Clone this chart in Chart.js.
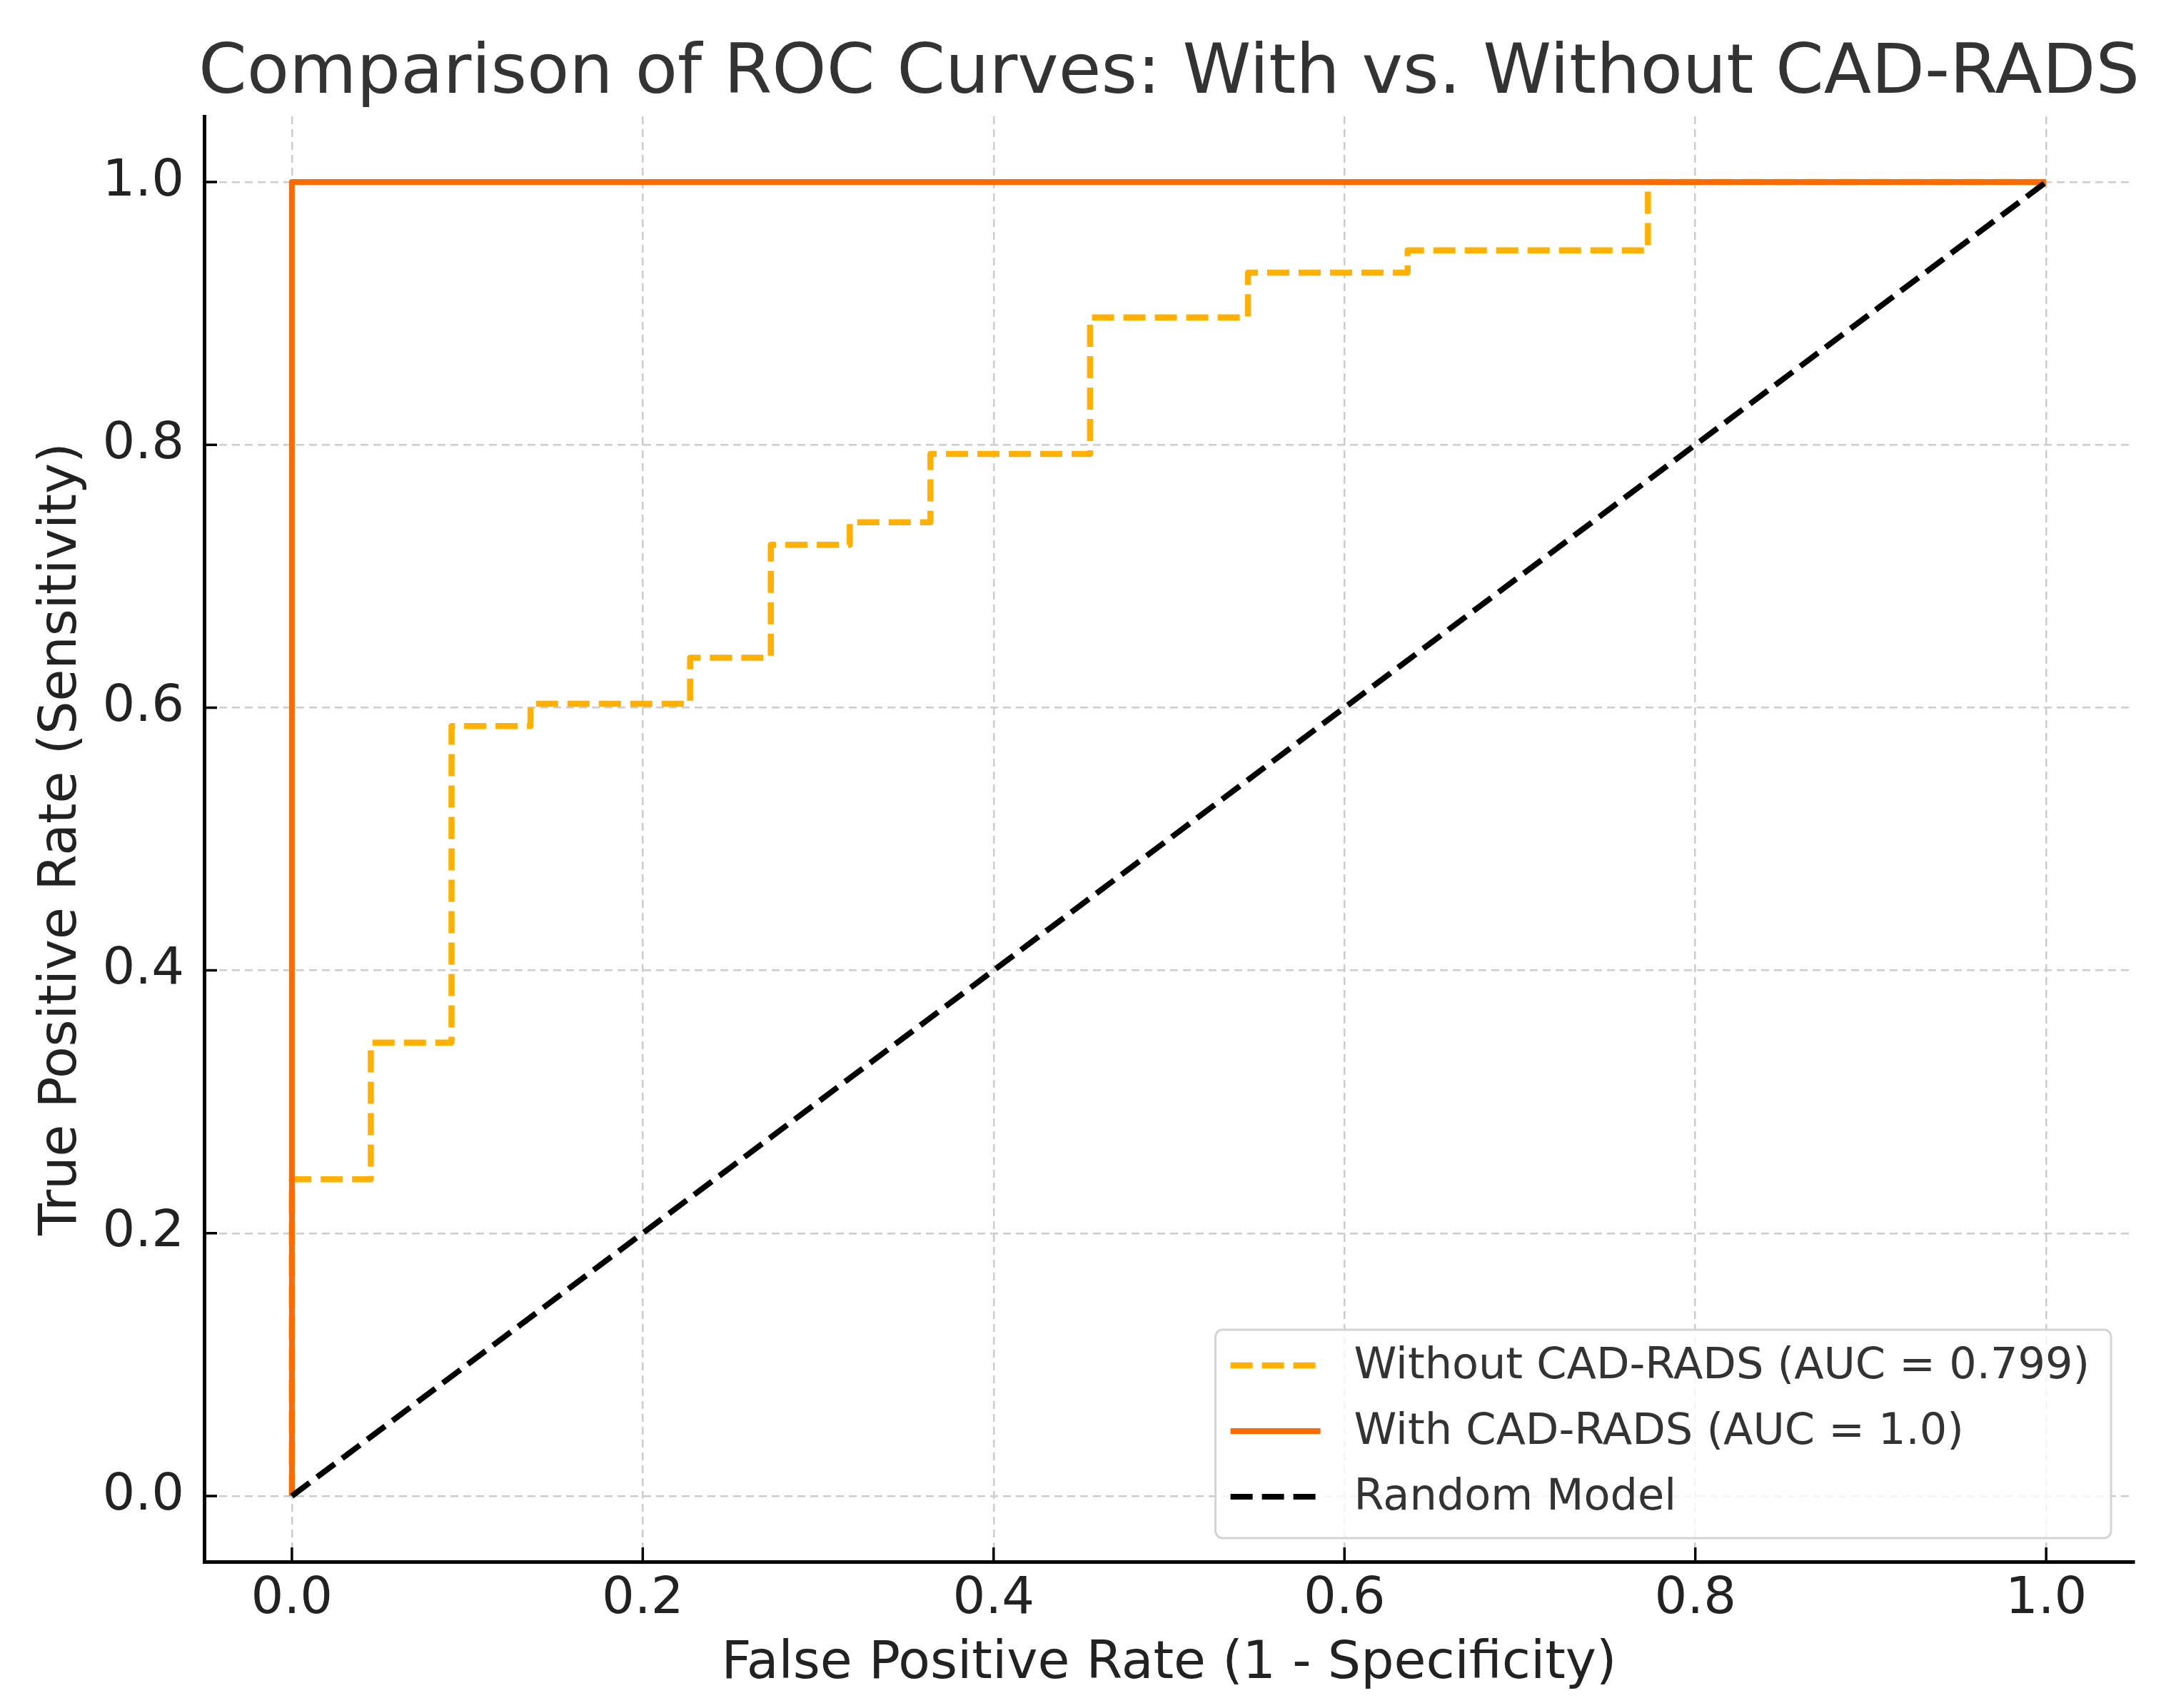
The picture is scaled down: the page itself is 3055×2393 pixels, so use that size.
<!DOCTYPE html>
<html>
<head>
<meta charset="utf-8">
<title>ROC curves</title>
<script src="https://cdn.jsdelivr.net/npm/chart.js@4.4.1/dist/chart.umd.min.js"></script>
<style>
html, body { margin: 0; padding: 0; background: #fff; }
#wrap { width: 3055px; height: 2393px; }
</style>
</head>
<body>
<div id="wrap"><canvas id="roc" width="3055" height="2393"></canvas></div>
<script>
// values
var fprWithout = [0.0, 0.0, 0.045, 0.045, 0.091, 0.091, 0.136, 0.136, 0.227, 0.227, 0.273, 0.273, 0.318, 0.318, 0.364, 0.364, 0.455, 0.455, 0.545, 0.545, 0.636, 0.636, 0.773, 0.773, 1.0];
var tprWithout = [0.0, 0.241, 0.241, 0.345, 0.345, 0.586, 0.586, 0.603, 0.603, 0.638, 0.638, 0.724, 0.724, 0.741, 0.741, 0.793, 0.793, 0.897, 0.897, 0.931, 0.931, 0.948, 0.948, 1.0, 1.0];
var fprWith = [0.0, 0.0, 1.0];
var tprWith = [0.0, 1.0, 1.0];
var fprRandom = [0.0, 1.0];
var tprRandom = [0.0, 1.0];
var tickVals = [0.0, 0.2, 0.4, 0.6, 0.8, 1.0];
var seriesNames = ["Without CAD-RADS (AUC = 0.799)", "With CAD-RADS (AUC = 1.0)", "Random Model"];
var chartTitle = "Comparison of ROC Curves: With vs. Without CAD-RADS";
var xTitle = "False Positive Rate (1 - Specificity)";
var yTitle = "True Positive Rate (Sensitivity)";

var FONT = "DejaVu Sans";

function pts(xs, ys) {
  var out = [];
  for (var i = 0; i < xs.length; i++) out.push({x: xs[i], y: ys[i]});
  return out;
}

var decor = {
  id: 'decor',
  afterDraw: function(chart) {
    var ctx = chart.ctx, ca = chart.chartArea;
    var xs = chart.scales.x, ys = chart.scales.y;

    // title, centred over the plot area
    ctx.save();
    ctx.font = '97px "' + FONT + '"';
    ctx.fillStyle = '#333333';
    ctx.textAlign = 'center';
    ctx.textBaseline = 'alphabetic';
    ctx.fillText(chartTitle, (ca.left + ca.right) / 2, 130);
    ctx.restore();

    // inward tick marks
    ctx.save();
    ctx.strokeStyle = '#000';
    ctx.lineWidth = 3.5;
    ctx.beginPath();
    tickVals.forEach(function(v) {
      var px = xs.getPixelForValue(v);
      ctx.moveTo(px, ca.bottom);
      ctx.lineTo(px, ca.bottom - 20);
      var py = ys.getPixelForValue(v);
      ctx.moveTo(ca.left, py);
      ctx.lineTo(ca.left + 18, py);
    });
    ctx.stroke();
    ctx.restore();

    // legend box, lower right inside the axes
    ctx.save();
    ctx.font = '60.5px "' + FONT + '"';
    var tw = 0;
    seriesNames.forEach(function(s) { tw = Math.max(tw, ctx.measureText(s).width); });
    var bw = 21 + 126 + 47 + tw + 30, bh = 292;
    var bx = ca.right - 32 - bw, by = ca.bottom - 33 - bh;
    ctx.beginPath();
    if (ctx.roundRect) ctx.roundRect(bx, by, bw, bh, 10); else ctx.rect(bx, by, bw, bh);
    ctx.fillStyle = 'rgba(255,255,255,0.8)';
    ctx.fill();
    ctx.lineWidth = 3;
    ctx.strokeStyle = '#d4d4d4';
    ctx.stroke();
    chart.data.datasets.forEach(function(ds, i) {
      var cy = by + 50 + i * 92;
      ctx.beginPath();
      ctx.setLineDash(ds.borderDash || []);
      ctx.lineWidth = ds.borderWidth;
      ctx.strokeStyle = ds.borderColor;
      ctx.moveTo(bx + 21, cy);
      ctx.lineTo(bx + 21 + 126, cy);
      ctx.stroke();
      ctx.setLineDash([]);
      ctx.fillStyle = '#333333';
      ctx.textAlign = 'left';
      ctx.textBaseline = 'middle';
      ctx.fillText(ds.label, bx + 21 + 126 + 47, cy + 2);
    });
    ctx.restore();
  }
};

var tickFont = {family: FONT, size: 72};
var labelFont = {family: FONT, size: 73};

function tickFmt(v) { return Number(v).toFixed(1); }

var ctx = document.getElementById('roc').getContext('2d');
var rocChart = new Chart(ctx, {
  type: 'line',
  data: {
    datasets: [
      {
        label: seriesNames[0],
        data: pts(fprWithout, tprWithout),
        borderColor: '#ffb000',
        borderWidth: 8.5,
        borderDash: [31, 13],
        borderJoinStyle: 'round',
        order: 3
      },
      {
        label: seriesNames[1],
        data: pts(fprWith, tprWith),
        borderColor: '#ff6a00',
        borderWidth: 8,
        borderJoinStyle: 'round',
        order: 2
      },
      {
        label: seriesNames[2],
        data: pts(fprRandom, tprRandom),
        borderColor: '#000000',
        borderWidth: 8,
        borderDash: [31, 13],
        order: 1
      }
    ]
  },
  options: {
    responsive: false,
    devicePixelRatio: 1,
    animation: false,
    layout: { padding: { top: 163, right: 66, left: 0, bottom: 0 } },
    elements: {
      point: { radius: 0, hoverRadius: 0 },
      line: { tension: 0, fill: false }
    },
    plugins: {
      legend: { display: false },
      tooltip: { enabled: false },
      title: { display: false }
    },
    scales: {
      x: {
        type: 'linear',
        min: -0.05,
        max: 1.05,
        afterBuildTicks: function(s) { s.ticks = tickVals.map(function(v) { return {value: v}; }); },
        afterFit: function(s) { s.height = 205; },
        grid: { color: '#cccccc', lineWidth: 2.5, drawTicks: false },
        border: { display: true, color: '#000', width: 5, dash: [11, 7] },
        ticks: { padding: 10, color: '#222', font: tickFont, callback: tickFmt, maxRotation: 0, autoSkip: false },
        title: { display: true, text: xTitle, color: '#222', font: labelFont, padding: { top: 0, bottom: 17 } }
      },
      y: {
        type: 'linear',
        min: -0.05,
        max: 1.05,
        afterBuildTicks: function(s) { s.ticks = tickVals.map(function(v) { return {value: v}; }); },
        afterFit: function(s) { s.width = 286; },
        grid: { color: '#cccccc', lineWidth: 2.5, drawTicks: false },
        border: { display: true, color: '#000', width: 5, dash: [11, 7] },
        ticks: { padding: 28, color: '#222', font: tickFont, callback: tickFmt, autoSkip: false },
        title: { display: true, text: yTitle, color: '#222', font: labelFont, padding: { top: 43, bottom: 0 } }
      }
    }
  },
  plugins: [decor]
});
</script>
</body>
</html>
